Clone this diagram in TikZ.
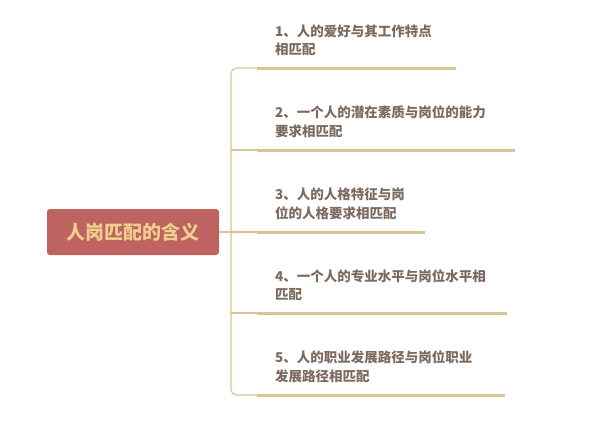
\documentclass[tikz,border=0pt]{standalone}
\usepackage{fontspec}
\setmainfont{Noto Sans CJK SC}
\usepackage{tikz}
\usetikzlibrary{calc}
\definecolor{rootred}{HTML}{BF6262}
\definecolor{rootgold}{HTML}{F0CF8E}
\definecolor{linetan}{HTML}{D8C594}
\definecolor{texttaupe}{HTML}{7D6A5E}
\tikzset{root/.style={draw=none, fill=rootred, rounded corners=3pt,
    minimum width=172pt, minimum height=46pt, inner sep=0pt,
    text=rootgold, font=\fontsize{19}{22}\selectfont\bfseries}}
\tikzset{leaf/.style={anchor=south west, inner sep=0pt, align=left,
    text=texttaupe, font=\fontsize{13.5}{18.5}\selectfont\bfseries}}
\tikzset{trunk/.style={draw=linetan, line width=1.2pt}}
\tikzset{under/.style={draw=linetan, line width=3pt}}

\begin{document}
\begin{tikzpicture}[x=1pt,y=-1pt]
    \useasboundingbox (0,0) rectangle (607,426);
    \node[root] (rt) at (133,232) {人岗匹配的含义};
    \coordinate (j) at (231,232);
    \coordinate (s1) at (257,68);
    \coordinate (s2) at (257,150);
    \coordinate (s3) at (257,232);
    \coordinate (s4) at (257,313);
    \coordinate (s5) at (257,395);
    \coordinate (e1) at (456,68);
    \coordinate (e2) at (515,150);
    \coordinate (e3) at (425,232);
    \coordinate (e4) at (507,313);
    \coordinate (e5) at (505,395);
    \node[leaf] (b1) at (275,56) {1、人的爱好与其工作特点\\相匹配};
    \node[leaf] (b2) at (275,138) {2、一个人的潜在素质与岗位的能力\\要求相匹配};
    \node[leaf] (b3) at (275,220) {3、人的人格特征与岗\\位的人格要求相匹配};
    \node[leaf] (b4) at (275,301) {4、一个人的专业水平与岗位水平相\\匹配};
    \node[leaf] (b5) at (275,383) {5、人的职业发展路径与岗位职业\\发展路径相匹配};
    \path[trunk] (rt.east) -- (j);
    \path[trunk, rounded corners=6pt] (s1) -| (j) |- (s5);
    \path[trunk] (j |- s2) -- (s2);
    \path[trunk] (j) -- (s3);
    \path[trunk] (j |- s4) -- (s4);
    \path[under] (s1) -- (e1);
    \path[under] (s2) -- (e2);
    \path[under] (s3) -- (e3);
    \path[under] (s4) -- (e4);
    \path[under] (s5) -- (e5);
  \end{tikzpicture}
\end{document}
